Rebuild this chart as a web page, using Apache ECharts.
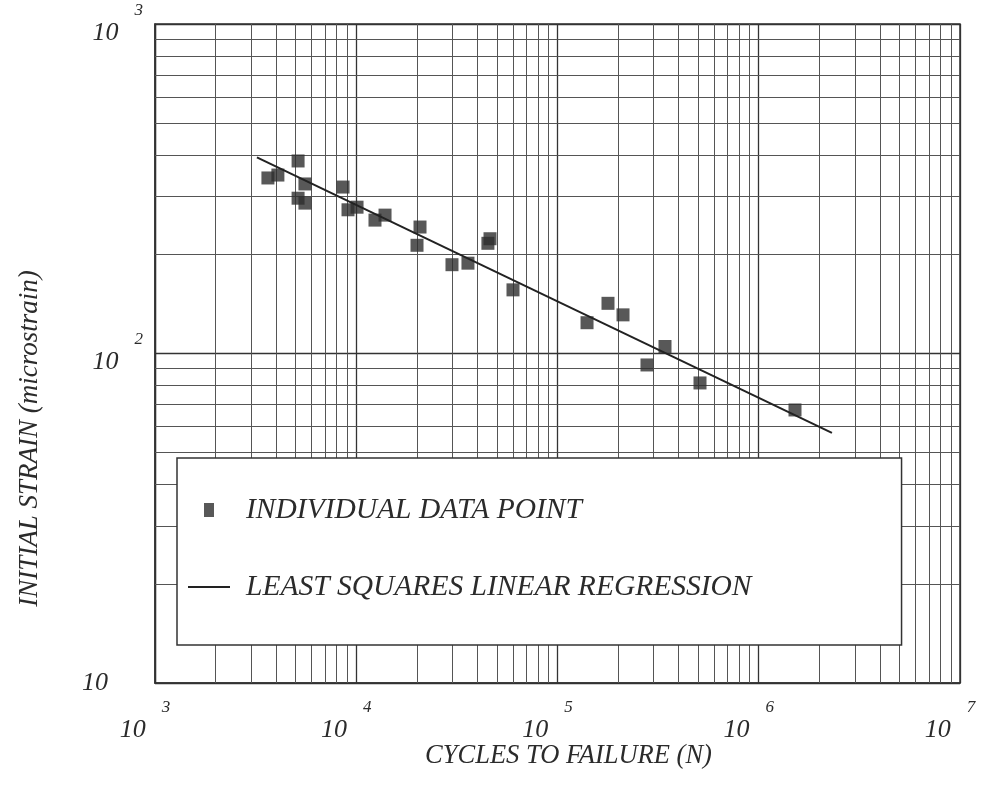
<!DOCTYPE html>
<html>
<head>
<meta charset="utf-8">
<script src="https://cdn.jsdelivr.net/npm/echarts@6/dist/echarts.min.js"></script>
<style>
  html, body { margin: 0; padding: 0; background: #fff; }
  #chart { width: 989px; height: 802px; }
</style>
</head>
<body>
<div id="chart"></div>
<script>
// cycles to failure (N) and initial strain (microstrain)
var cycles = [3640, 4080, 5140, 5140, 5560, 5560, 8600, 9100, 10090, 12390,
              13900, 20040, 20740, 29900, 35900, 45100, 46200, 60100, 140200,
              178200, 211600, 278400, 342100, 510600, 1514000];
var strain = [341, 348, 384, 296, 286, 327, 320, 273, 278, 254,
              263, 213, 242, 186, 188, 216, 223, 156, 124,
              142, 131, 92.3, 105, 81.4, 67.4];

// regression line end points
var fitCycles = [3210, 2310000];
var fitStrain = [394, 57.4];

// log paper grid lines
var mantissas = [2, 3, 4, 5, 6, 7, 8, 9];
var xDecades = [1e3, 1e4, 1e5, 1e6];
var yDecades = [10, 100];

var xGrid = [];
xDecades.forEach(function (d) { mantissas.forEach(function (m) { xGrid.push(m * d); }); });
var yGrid = [];
yDecades.forEach(function (d) { mantissas.forEach(function (m) { yGrid.push(m * d); }); });

var serif = '"Liberation Serif", "DejaVu Serif", serif';
var ink = '#2b2b2b';

function expOf(value) {
    return Math.round(Math.log10(value));
}
function xLabel(value) {
    return '{b|10}{g|}{e|' + expOf(value) + '}{t|}';
}
function yLabel(value) {
    var e = expOf(value);
    if (e === 1) return '{c|10}';
    return '{b|10}{g|}{e|' + e + '}';
}

var labelRich = {
    b: { fontFamily: serif, fontStyle: 'italic', fontSize: 26, color: ink, verticalAlign: 'bottom', lineHeight: 44 },
    g: { width: 16 },
    e: { fontFamily: serif, fontStyle: 'italic', fontSize: 17, color: ink, verticalAlign: 'top', lineHeight: 44 },
    t: { width: 20 },
    c: { fontFamily: serif, fontStyle: 'italic', fontSize: 26, color: ink, padding: [0, 35, 0, 0] }
};

var scatterData = cycles.map(function (c, i) { return [c, strain[i]]; });
var fitData = fitCycles.map(function (c, i) { return [c, fitStrain[i]]; });

var gridLines = xGrid.map(function (v) { return { xAxis: v }; })
    .concat(yGrid.map(function (v) { return { yAxis: v }; }));

var myChart = echarts.init(document.getElementById('chart'));
var option = {
    backgroundColor: '#fff',
    animation: false,
    grid: {
        left: 155, right: 29, top: 24, bottom: 119,
        show: true, borderColor: '#333', borderWidth: 1.5
    },
    legend: {
        orient: 'vertical',
        left: 177,
        top: 458,
        z: 20,
        backgroundColor: '#fff',
        borderColor: '#333',
        borderWidth: 1.5,
        padding: [37, 150, 43, 11],
        itemGap: 47,
        itemWidth: 42,
        itemHeight: 14,
        selectedMode: false,
        textStyle: {
            fontFamily: serif, fontStyle: 'italic', fontSize: 29.5, color: ink,
            padding: [0, 0, 0, 11]
        },
        data: [
            { name: 'INDIVIDUAL DATA POINT', icon: 'path://M0 0H10V14H0Z' },
            { name: 'LEAST SQUARES LINEAR REGRESSION', icon: 'path://M0 0H42V2H0Z' }
        ]
    },
    xAxis: {
        type: 'log',
        logBase: 10,
        min: 1000,
        max: 1e7,
        splitNumber: 4,
        name: 'CYCLES TO FAILURE (N)',
        nameLocation: 'middle',
        nameGap: 60,
        nameMoveOverlap: false,
        nameTextStyle: { fontFamily: serif, fontStyle: 'italic', fontSize: 26.5, color: ink, padding: [0, 0, 0, 22] },
        axisLine: { lineStyle: { color: '#333', width: 1.5 } },
        axisTick: { show: false },
        axisLabel: { margin: 16, formatter: xLabel, rich: labelRich },
        splitLine: { show: true, lineStyle: { color: '#333', width: 1.3 } }
    },
    yAxis: {
        type: 'log',
        logBase: 10,
        min: 10,
        max: 1000,
        splitNumber: 2,
        name: '{a|INITIAL STRAIN (microstrain)}',
        nameLocation: 'middle',
        nameGap: 112,
        nameRotate: 90,
        nameTextStyle: {
            padding: [0, 170, 0, 0],
            rich: {
                a: { fontFamily: serif, fontStyle: 'italic', fontSize: 27, color: ink }
            }
        },
        axisLine: { lineStyle: { color: '#333', width: 1.5 } },
        axisTick: { show: false },
        axisLabel: { margin: 12, formatter: yLabel, rich: labelRich },
        splitLine: { show: true, lineStyle: { color: '#333', width: 1.3 } }
    },
    series: [
        {
            name: 'INDIVIDUAL DATA POINT',
            type: 'scatter',
            symbol: 'rect',
            symbolSize: [13, 13],
            itemStyle: { color: '#2e2e2e' },
            data: scatterData,
            z: 4
        },
        {
            name: 'LEAST SQUARES LINEAR REGRESSION',
            type: 'line',
            symbol: 'none',
            lineStyle: { color: '#222', width: 2 },
            itemStyle: { color: '#222' },
            data: fitData,
            z: 5,
            markLine: {
                silent: true,
                symbol: 'none',
                z: 1,
                label: { show: false },
                lineStyle: { color: '#555', width: 1, type: 'solid' },
                data: gridLines
            }
        }
    ]
};
myChart.setOption(option);

window.addEventListener('resize', function () {
    myChart.resize();
});
</script>
</body>
</html>
